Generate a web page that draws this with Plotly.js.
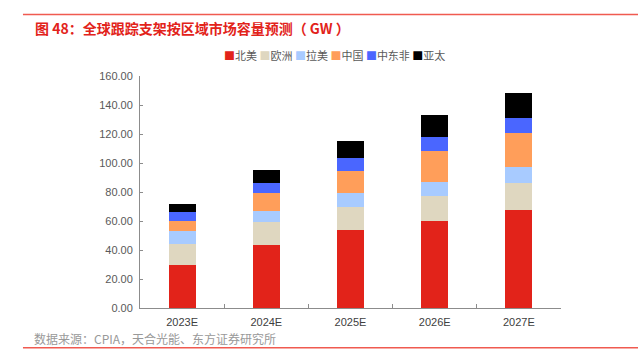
<!DOCTYPE html>
<html>
<head>
<meta charset="utf-8">
<script src="https://cdn.plot.ly/plotly-3.0.1.min.js"></script>
<style>html,body{margin:0;padding:0;background:#fff}#chart{width:638px;height:358px}</style>
</head>
<body>
<div id="chart"></div>
<script>
const years = ["2023E", "2024E", "2025E", "2026E", "2027E"];
const regions = ["北美", "欧洲", "拉美", "中国", "中东非", "亚太"];
const colors = ["#E2231A", "#DFD7C0", "#A8CBFF", "#FF9E5A", "#4A66FF", "#000000"];
const northAmerica = [30.0, 43.5, 53.8, 60.0, 67.8];
const europe = [14.2, 16.0, 15.9, 17.0, 18.4];
const latinAmerica = [8.8, 7.5, 9.6, 10.1, 10.8];
const china = [6.8, 12.3, 15.1, 21.3, 23.6];
const middleEastAfrica = [6.4, 6.9, 8.8, 9.4, 10.3];
const asiaPacific = [5.5, 8.7, 12.3, 15.1, 17.4];
const yTicks = [0, 20, 40, 60, 80, 100, 120, 140, 160];
const titleText = "图 48：全球跟踪支架按区域市场容量预测（ GW ）";
const sourceText = "数据来源：CPIA，天合光能、东方证券研究所";

const series = [northAmerica, europe, latinAmerica, china, middleEastAfrica, asiaPacific];
const traces = series.map((vals, i) => ({
  type: "bar",
  x: years,
  y: vals,
  name: regions[i],
  marker: {color: colors[i], line: {width: 0}},
  width: 0.32,
  hoverinfo: "x+y+name"
}));

const font = "Liberation Sans, Arial, 'Noto Sans CJK SC', sans-serif";
const cjk = "'Noto Sans CJK SC', 'Liberation Sans', sans-serif";

const legendText = regions.map((r, i) =>
  `<span style="color:${colors[i]}">■</span>${r}`).join(" ");

const layout = {
  width: 638, height: 358,
  margin: {l: 140, r: 77, t: 76, b: 50},
  paper_bgcolor: "#ffffff", plot_bgcolor: "#ffffff",
  barmode: "stack",
  showlegend: false,
  font: {family: font, size: 11, color: "#595959"},
  xaxis: {
    type: "category",
    showline: true, linecolor: "#8c8c8c", linewidth: 1,
    ticks: "inside", tickson: "boundaries", ticklen: 4, tickcolor: "#8c8c8c",
    showgrid: false, zeroline: false,
    ticklabelstandoff: 4,
    tickfont: {family: font, size: 11, color: "#404040"}
  },
  yaxis: {
    range: [0, 160],
    tickvals: yTicks,
    ticktext: yTicks.map(v => v.toFixed(2)),
    showline: true, linecolor: "#8c8c8c", linewidth: 1,
    ticks: "inside", ticklen: 3, tickcolor: "#8c8c8c",
    showgrid: false, zeroline: false,
    ticklabelstandoff: 4,
    tickfont: {family: font, size: 11, color: "#595959"}
  },
  shapes: [
    {type: "line", xref: "paper", yref: "paper", x0: -0.278, x1: 1.183, y0: 1.265, y1: 1.265,
     line: {color: "#F05A50", width: 1.5}},
    {type: "line", xref: "paper", yref: "paper", x0: -0.278, x1: 1.183, y0: -0.171, y1: -0.171,
     line: {color: "#F05A50", width: 1.5}}
  ],
  annotations: [
    {xref: "paper", yref: "paper", x: -0.255, y: 1.208, xanchor: "left", yanchor: "middle",
     text: "<b>" + titleText + "</b>", showarrow: false,
     font: {family: cjk, size: 14, color: "#E2231A"}},
    {xref: "paper", yref: "paper", x: 0.195, y: 1.091, xanchor: "left", yanchor: "middle",
     text: legendText, showarrow: false,
     font: {family: cjk, size: 11, color: "#595959"}},
    {xref: "paper", yref: "paper", x: -0.257, y: -0.132, xanchor: "left", yanchor: "middle",
     text: sourceText, showarrow: false,
     font: {family: cjk, size: 12, color: "#999999"}}
  ]
};

Plotly.newPlot("chart", traces, layout, {displayModeBar: false, staticPlot: true});
</script>
</body>
</html>
